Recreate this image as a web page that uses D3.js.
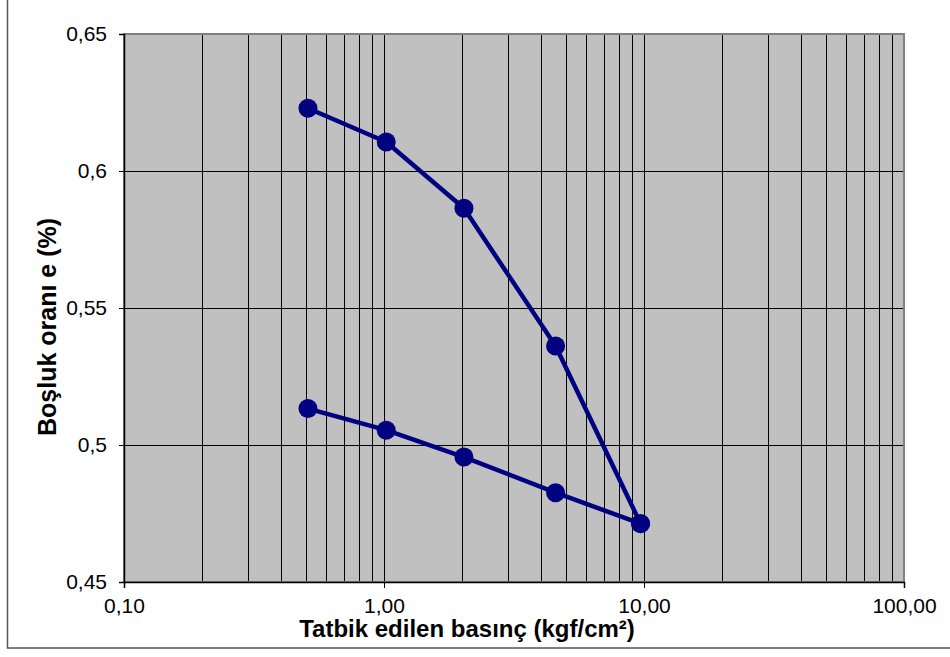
<!DOCTYPE html>
<html><head><meta charset="utf-8">
<script src="https://cdn.jsdelivr.net/npm/d3@7"></script>
<style>body{margin:0;background:#fff}svg{display:block}text{font-family:"Liberation Sans",Arial,sans-serif}</style>
</head><body><svg id="c" width="950" height="657"></svg>
<script>
const loadingPressure = [0.51, 1.02, 2.03, 4.57, 9.7];
const loadingVoid = [0.6229, 0.6106, 0.5864, 0.5361, 0.4713];
const unloadingPressure = [9.7, 4.57, 2.03, 1.02, 0.51];
const unloadingVoid = [0.4713, 0.4826, 0.4956, 0.5054, 0.5133];
const xTicks = [0.1, 1, 10, 100];
const xTickLabels = ["0,10", "1,00", "10,00", "100,00"];
const yTicks = [0.45, 0.5, 0.55, 0.6, 0.65];
const yTickLabels = ["0,45", "0,5", "0,55", "0,6", "0,65"];
const xTitle = "Tatbik edilen basınç (kgf/cm²)";
const yTitle = "Boşluk oranı e (%)";

const svg = d3.select("#c");
const L = 124, T = 34, R = 904, B = 582;
const x = d3.scaleLog().domain([0.1, 100]).range([L, R]);
const y = d3.scaleLinear().domain([0.45, 0.65]).range([B, T]);

// outer frame
svg.append("rect").attr("x", 7.5).attr("y", -10).attr("width", 960).attr("height", 658)
  .attr("fill", "none").attr("stroke", "#555").attr("stroke-width", 1.5);

// plot background
svg.append("rect").attr("x", L).attr("y", T).attr("width", R - L).attr("height", B - T).attr("fill", "#c0c0c0");

// vertical gridlines (log minor + major)
const vlines = [];
for (let d = 0.1; d < 100; d *= 10) for (let k = 1; k <= 9; k++) vlines.push(+(d * k).toPrecision(3));
svg.append("g").selectAll("line").data(vlines.filter(v => v > 0.1)).join("line")
  .attr("x1", d => Math.round(x(d)) + 0.5).attr("x2", d => Math.round(x(d)) + 0.5)
  .attr("y1", T).attr("y2", B).attr("stroke", "#000").attr("stroke-width", 1);
// horizontal gridlines
svg.append("g").selectAll("line").data(yTicks.slice(1, -1)).join("line")
  .attr("x1", L).attr("x2", R).attr("y1", d => Math.round(y(d)) + 0.5).attr("y2", d => Math.round(y(d)) + 0.5)
  .attr("stroke", "#000").attr("stroke-width", 1);

// plot border (top/right gray)
svg.append("rect").attr("x", L).attr("y", T).attr("width", R - L).attr("height", B - T)
  .attr("fill", "none").attr("stroke", "#808080").attr("stroke-width", 2);

// axes
const yAxis = d3.axisLeft(y).tickValues(yTicks).tickFormat((d, i) => yTickLabels[i]).tickSize(5).tickPadding(12);
const gy = svg.append("g").attr("transform", `translate(${L},0)`).call(yAxis);
const xAxis = d3.axisBottom(x).tickValues(xTicks).tickFormat((d, i) => xTickLabels[i]).tickSize(6).tickPadding(10);
const gx = svg.append("g").attr("transform", `translate(0,${B})`).call(xAxis);
[gx, gy].forEach(g => {
  g.attr("font-size", null).attr("font-family", null);
  g.selectAll("path").attr("stroke", "#000").attr("stroke-width", 1.5);
  g.selectAll("line").attr("stroke", "#000");
  g.selectAll("text").attr("font-size", 21).attr("fill", "#000").style("font-family", '"Liberation Sans",Arial,sans-serif');
});

// series
const line = d3.line().x(d => x(d[0])).y(d => y(d[1]));
const loadPts = loadingPressure.map((p, i) => [p, loadingVoid[i]]);
const unloadPts = unloadingPressure.map((p, i) => [p, unloadingVoid[i]]);
[loadPts, unloadPts].forEach(pts => {
  svg.append("path").datum(pts).attr("d", line).attr("fill", "none")
    .attr("stroke", "#000080").attr("stroke-width", 4.5).attr("stroke-linejoin", "round");
  svg.append("g").selectAll("circle").data(pts).join("circle")
    .attr("cx", d => x(d[0])).attr("cy", d => y(d[1])).attr("r", 9.5).attr("fill", "#000080");
});

// titles
svg.append("text").attr("x", 467).attr("y", 637).attr("text-anchor", "middle")
  .attr("font-size", 24).attr("font-weight", "bold").text(xTitle);
svg.append("text").attr("transform", "translate(56,327) rotate(-90)").attr("text-anchor", "middle")
  .attr("font-size", 25).attr("font-weight", "bold").text(yTitle);
</script></body></html>
